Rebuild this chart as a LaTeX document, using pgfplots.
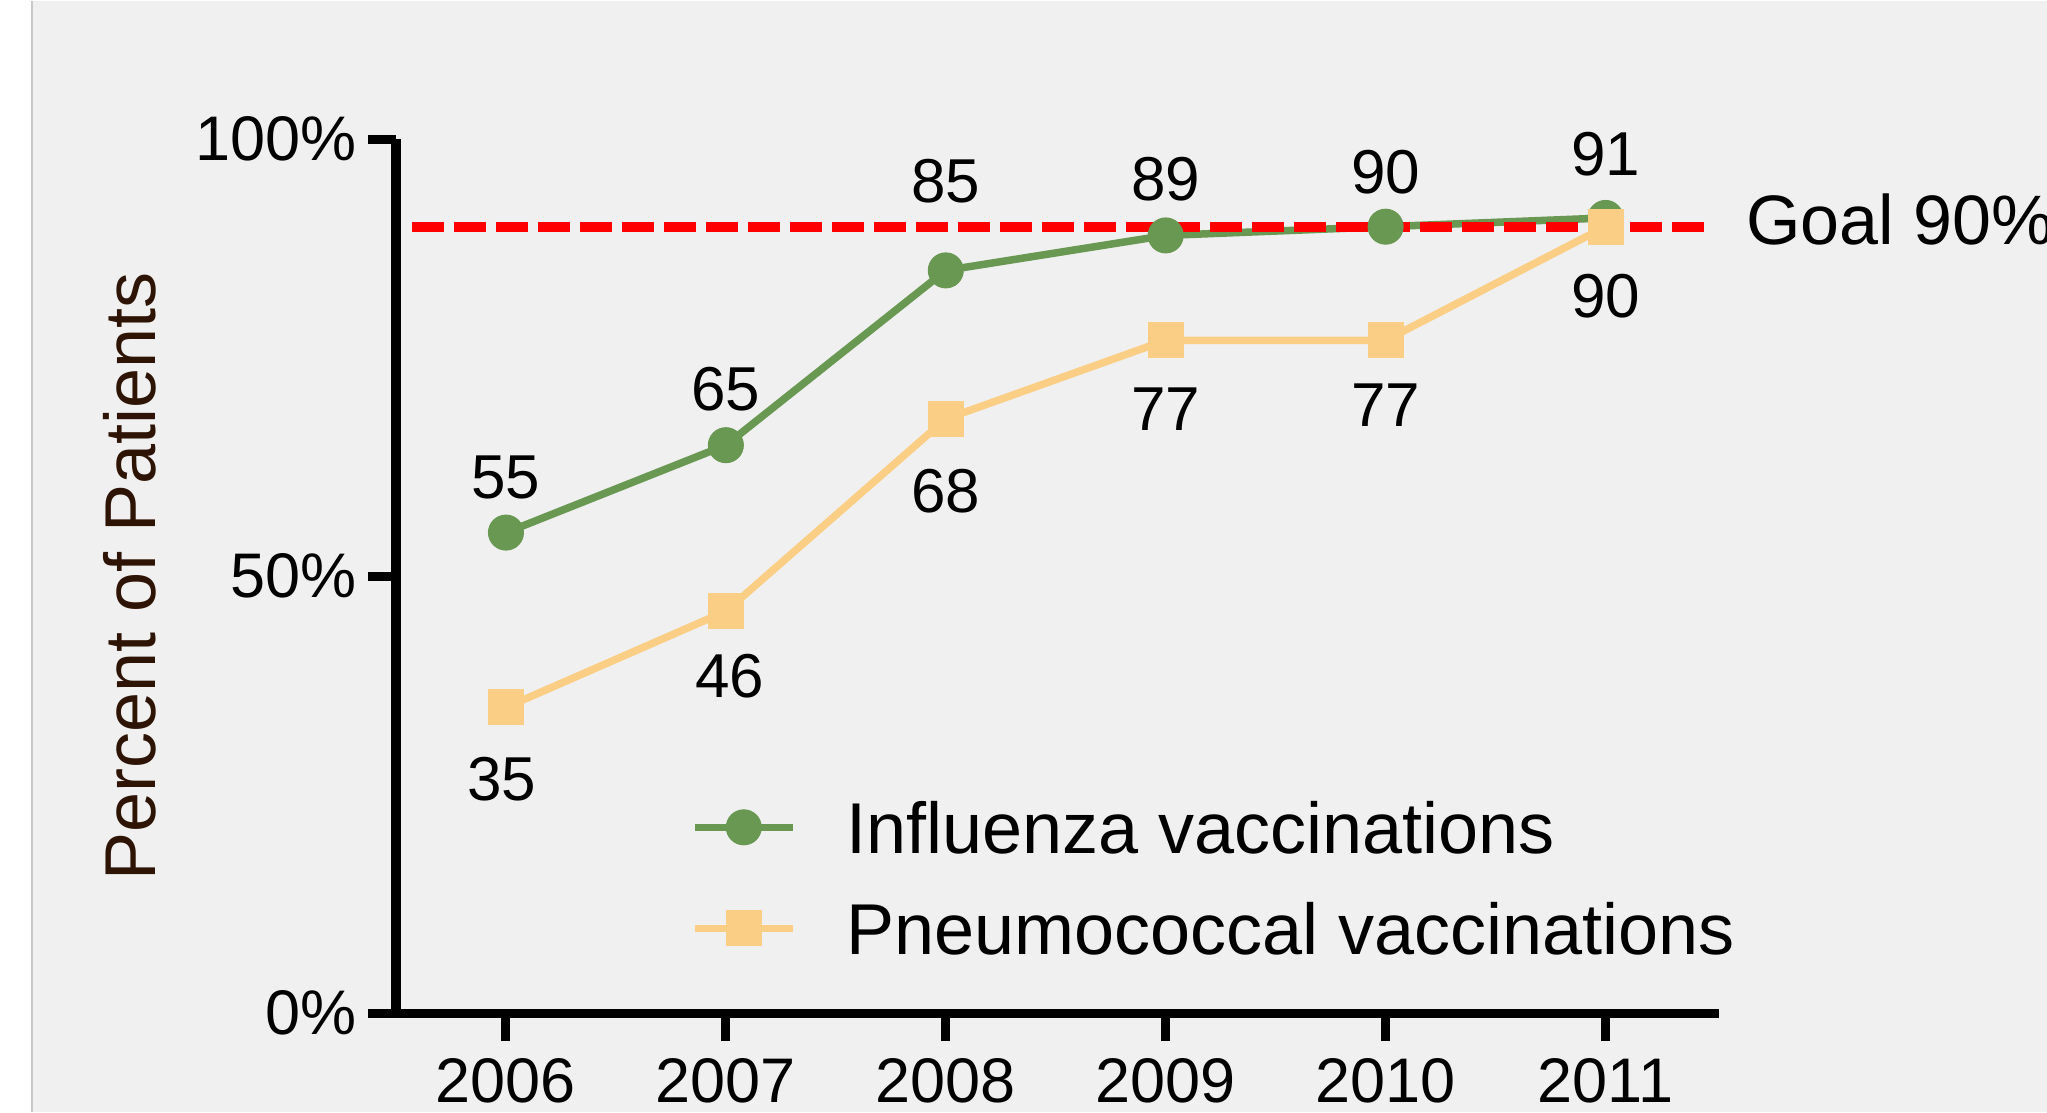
\documentclass[border=0pt]{standalone}
\usepackage{pgfplots}
\usepackage{pgfplotstable}
\pgfplotsset{compat=1.18}
\usepackage{fontspec}
\setmainfont{Liberation Sans}
\definecolor{bg}{HTML}{F0F0F0}
\definecolor{flu}{HTML}{699852}
\definecolor{pneu}{HTML}{FBCE85}
\definecolor{lab}{HTML}{2E1404}
\definecolor{edge}{HTML}{C8C8C8}
\pgfplotstableread{
x y dx dy
0 55 0 27.5
1 65 0 28
2 85 0 44.5
3 89 0 28
4 90 0 27.5
5 91 0 32
}\flu
\pgfplotstableread{
x y dx dy
0 35 -2 -36
1 46 2 -32.5
2 68 0 -36
3 77 0 -34.5
4 77 0 -32.5
5 90 0 -34.5
}\pneu
\pgfplotsset{
  labelled/.style={
    nodes near coords,
    visualization depends on={\thisrow{dx} \as \dx},
    visualization depends on={\thisrow{dy} \as \dy},
    every node near coord/.append style={anchor=center, text=black, inner sep=0pt, font=\fontsize{31}{37}\selectfont, xshift=\dx pt, yshift=\dy pt},
  }
}
\begin{document}
\begin{tikzpicture}
\fill[white] (0,0) rectangle (1023.5pt,555.5pt);
\fill[bg] (16pt,0) rectangle (1023.5pt,555.5pt);
\draw[edge, line width=0.6pt] (16pt,0) -- (16pt,555.5pt);
\useasboundingbox (0,0) rectangle (1023.5pt,555.5pt);
\begin{axis}[
  at={(198pt,49.15pt)}, anchor=south west,
  scale only axis, width=661.5pt, height=437pt,
  xmin=-0.5, xmax=5.516, ymin=0, ymax=100,
  clip=false,
  axis x line*=bottom, axis y line*=left,
  axis line style={line width=4.5pt, black},
  tick align=outside, major tick length=14pt,
  every tick/.style={line width=4.5pt, black},
  xtick={0,...,5}, xticklabels={2006,2007,2008,2009,2010,2011},
  ytick={0,50,100}, yticklabels={0\%,50\%,100\%},
  minor tick num=0,
  /pgf/number format/assume math mode=true,
  tick label style={font=\fontsize{31.5}{38}\selectfont, inner sep=0pt},
  xticklabel style={yshift=-8.5pt},
  yticklabel style={xshift=-5.5pt},
  ylabel={Percent of Patients},
  every axis y label/.style={at={(axis description cs:-0.2011,0.5)}, rotate=90, anchor=center, inner sep=0pt, font=\fontsize{36}{43}\selectfont, text=lab},
  legend style={at={(axis description cs:0.223,0.2423)}, anchor=north west, draw=none, fill=none, inner sep=0pt, outer sep=0pt, font=\fontsize{36}{43}\selectfont, row sep=24.7pt, column sep=25pt, nodes={inner sep=0pt, text height=25.8pt, text depth=0pt}},
  legend cell align=left,
  legend image code/.code={\draw[mark repeat=2,mark phase=2,#1] plot coordinates {(0pt,0pt) (24.5pt,0pt) (49pt,0pt)};},
]
\addplot[flu, line width=3.75pt, mark=*, mark size=8.75pt, mark options={solid, line width=0.5pt, fill=flu}, labelled]
  table[x=x, y=y, meta=y] {\flu};
\addlegendentry{Influenza vaccinations}
\addplot[pneu, line width=3.75pt, mark=square*, mark size=8.75pt, mark options={solid, line width=0.5pt, fill=pneu}, labelled]
  table[x=x, y=y, meta=y] {\pneu};
\addlegendentry{Pneumococcal vaccinations}
\addplot[red, line width=5pt, dash pattern=on 16pt off 5pt, forget plot] coordinates {(-0.427,90) (5.475,90)};
\node[anchor=west, inner sep=0pt, font=\fontsize{35}{42}\selectfont, xshift=13.5pt, yshift=3.5pt] at (axis cs:5.516,90) {Goal 90\%};
\end{axis}
\end{tikzpicture}
\end{document}
